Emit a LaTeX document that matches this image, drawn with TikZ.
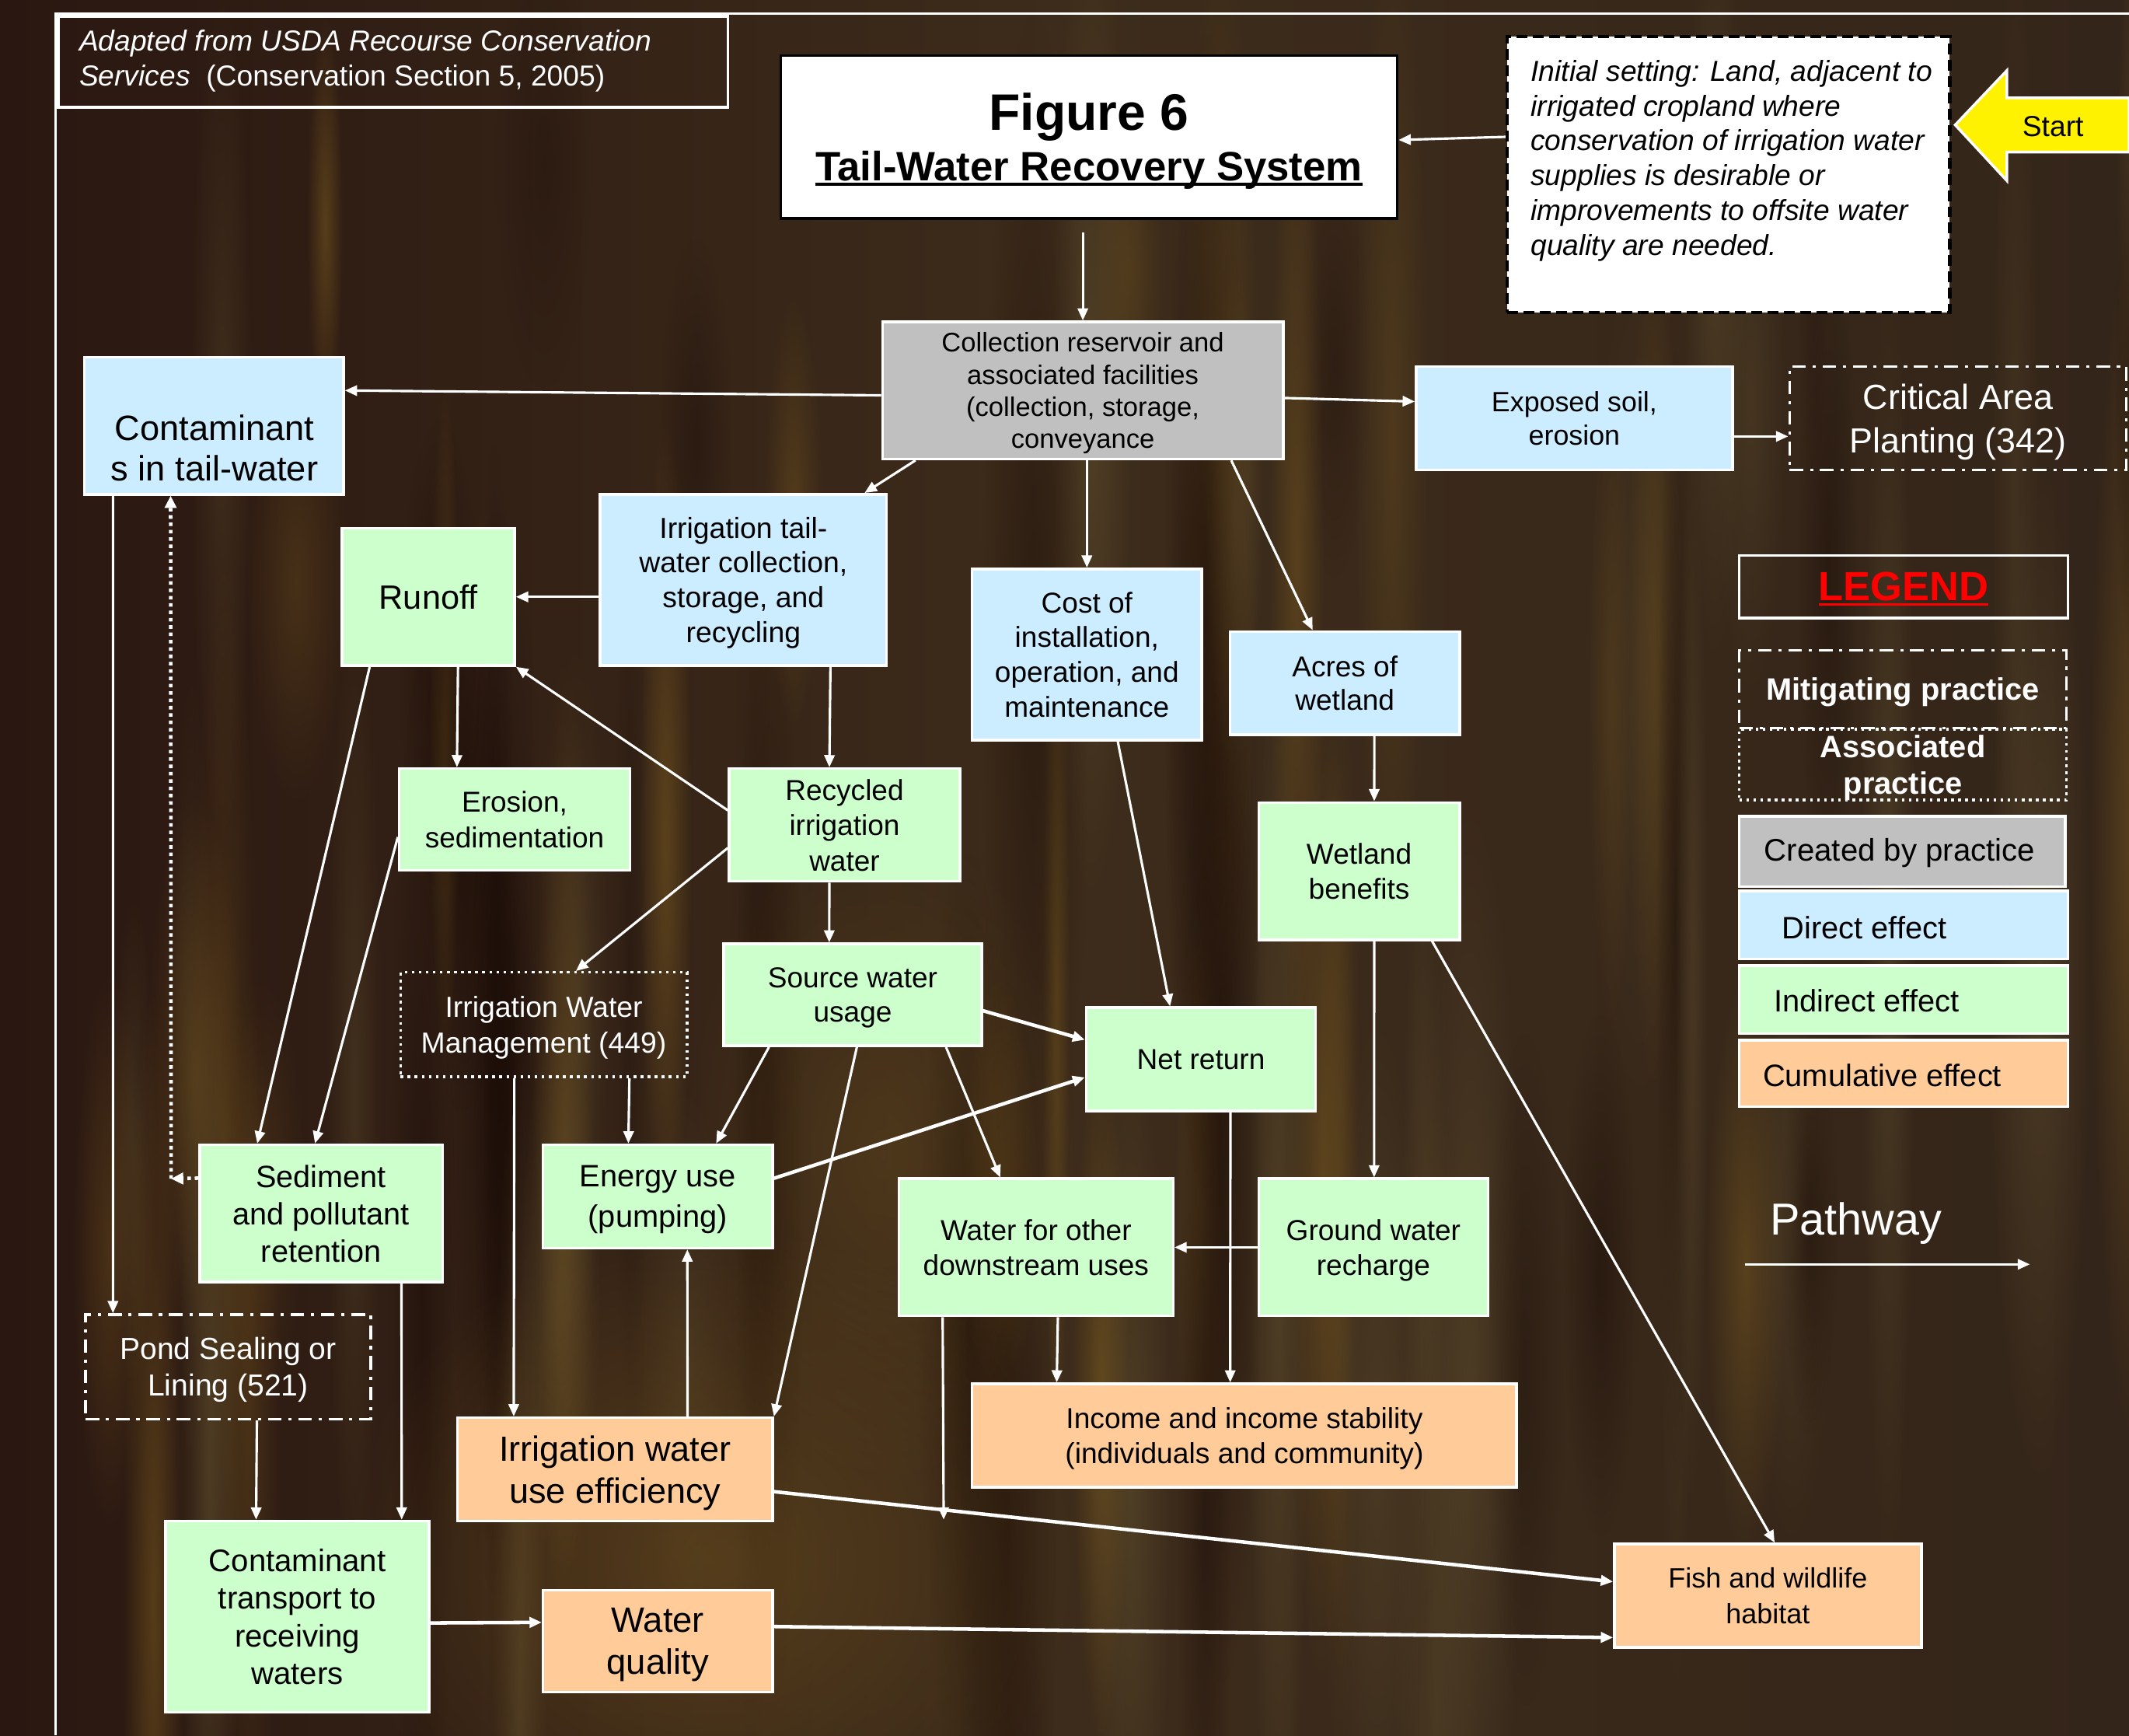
\documentclass[tikz,border=0pt]{standalone}
\usepackage{fontspec}
\setmainfont{Liberation Sans}
\usetikzlibrary{arrows.meta,calc,fadings}
\definecolor{lblue}{HTML}{CCECFF}
\definecolor{lgreen}{HTML}{CCFFCC}
\definecolor{lorange}{HTML}{FFCC99}
\definecolor{lgray}{HTML}{C0C0C0}
\definecolor{bgL}{HTML}{2A1711}
\definecolor{bgM}{HTML}{3D2C1B}
\definecolor{bgR}{HTML}{34251A}
\definecolor{stA}{HTML}{7A5A20}
\definecolor{stB}{HTML}{1A0C07}
\definecolor{stC}{HTML}{5E4E2E}
\tikzfading[name=softblob, inner color=transparent!0, outer color=transparent!100]
\newcommand\myfs[2]{\fontsize{#1}{#2}\selectfont}
\newcommand\myul[1]{\setbox0\hbox{#1}\rlap{\rule[-0.12em]{\wd0}{0.07em}}\box0}
\begin{document}
\begin{tikzpicture}[x=0.5pt,y=-0.5pt,
  sz/.style 2 args={minimum width=#1pt,minimum height=#2pt},
  box/.style={draw=white,line width=1pt,inner sep=0pt,align=center,text=black,text depth=0pt},
  dotbox/.style={draw=white,line width=1pt,dash pattern=on 1pt off 1.6pt,inner sep=0pt,align=center,text=white,text depth=0pt},
  dashdotbox/.style={draw=white,line width=1pt,dash pattern=on 5pt off 2.5pt on 1.2pt off 2.5pt,inner sep=0pt,align=center,text=white,text depth=0pt},
  arr/.style={draw=white,line width=0.9pt,-{Triangle[length=4.5pt,width=3.8pt]}},
  thickarr/.style={arr,line width=1.3pt},
  dotarr/.style={draw=white,line width=1.3pt,dash pattern=on 1.3pt off 1.4pt,-{Triangle[length=4.5pt,width=4.2pt]}},
  txt/.style={inner sep=0pt,align=center}
]
\useasboundingbox (0,0) rectangle (1568,1278);
\shade[left color=bgL,right color=bgR,middle color=bgM] (0,0) rectangle (1568,1278);
% photographic texture: soft vertical streaks
\pgfmathsetseed{4242}
\foreach \i in {1,...,80}{
  \pgfmathsetmacro\xa{40+rnd*1520}
  \pgfmathsetmacro\wd{20+rnd*60}
  \pgfmathsetmacro\ya{-100+rnd*900}
  \pgfmathsetmacro\yb{\ya+300+rnd*700}
  \pgfmathsetmacro\op{0.25+rnd*0.35}
  \pgfmathtruncatemacro\ci{mod(\i,3)}
  \ifnum\ci=0 \def\cc{stA}\fi
  \ifnum\ci=1 \def\cc{stB}\fi
  \ifnum\ci=2 \def\cc{stC}\fi
  \fill[\cc,opacity=\op,path fading=softblob] (\xa,\ya) rectangle (\xa+\wd,\yb);
}
\fill[stA,opacity=0.45,path fading=softblob] (250,900) rectangle (800,1400);
\fill[stA,opacity=0.3,path fading=softblob] (500,600) rectangle (800,1100);

% frame and source note
\draw[white,line width=1pt] (41,1278) -- (41,10) -- (1568,10);
\node[draw=white,line width=1pt,sz={246.5}{33.5},inner sep=0pt] (adapted) at (289.5,45.5) {};
\node[txt,anchor=west,align=left,text=white,font=\myfs{10.65}{13}] (adapted-t) at (58,45)
  {\textit{Adapted from USDA Recourse Conservation}\\\textit{Services}\ \ (Conservation Section 5, 2005)};

% title
\node[fill=white,draw=black,line width=1pt,sz={227}{60},inner sep=0pt,align=center,text depth=0pt,
      font=\myfs{15.1}{18.6}\bfseries] (title) at (802,101)
  {{\myfs{18.9}{18.6}\bfseries Figure 6}\\\myul{Tail-Water Recovery System}};

% initial setting
\node[fill=white,draw=black,line width=1.2pt,dash pattern=on 4pt off 2pt,sz={163}{101.5},inner sep=0pt] (init) at (1273,128.5) {};
\node[txt,anchor=north west,align=left,text=black,font=\myfs{10.65}{12.8}\itshape] (init-t) at (1127,44)
  {Initial setting: Land, adjacent to\\irrigated cropland where\\conservation of irrigation water\\supplies is desirable or\\improvements to offsite water\\quality are needed.};

% start arrow
\draw[fill=yellow,draw=white,line width=1pt] (1440,92) -- (1478,52) -- (1478,72) -- (1568,72) -- (1568,112) -- (1478,112) -- (1478,133) -- cycle;
\node[txt,text=black,font=\myfs{10.65}{13}] (start) at (1512,93) {Start};

% main boxes
\node[box,fill=lgray,sz={147.5}{50.5},font=\myfs{9.9}{11.85}] (coll) at (797.5,287.5) {Collection reservoir and\\associated facilities\\(collection, storage,\\conveyance};
\node[box,fill=lblue,sz={95.5}{50.5}] (cont) at (157.5,313.5) {};
\node[txt,text=black,font=\myfs{12.95}{15}] (cont-t) at (158,330) {Contaminant\\s in tail-water};
\node[box,fill=lblue,sz={116.5}{38},font=\myfs{10.25}{12.5}] (expo) at (1159.5,308) {Exposed soil,\\erosion};
\node[dashdotbox,sz={124}{38},font=\myfs{12.85}{16}] (crit) at (1442,308) {Critical Area\\Planting (342)};
\node[box,fill=lblue,sz={105.5}{63},font=\myfs{10.7}{12.85}] (irr) at (547.5,427) {Irrigation tail-\\water collection,\\storage, and\\recycling};
\node[box,fill=lgreen,sz={63.5}{50.5},font=\myfs{12.4}{15}] (runoff) at (315.5,439.5) {Runoff};
\node[box,fill=lgreen,sz={85}{41.5},font=\myfs{10.6}{13}] (recyc) at (622,607.5) {Recycled\\irrigation\\water};
\node[box,fill=lgreen,sz={85}{37.5},font=\myfs{10.6}{13}] (eros) at (379,603.5) {Erosion,\\sedimentation};
\node[box,fill=lblue,sz={84.5}{63},font=\myfs{10.6}{12.85}] (cost) at (800.5,482) {Cost of\\installation,\\operation, and\\maintenance};
\node[box,fill=lblue,sz={84.5}{38},font=\myfs{10.6}{12.5}] (acres) at (990.5,503) {Acres of\\wetland};
\node[box,fill=lgreen,sz={74}{50.5},font=\myfs{10.6}{13}] (wetl) at (1001,641.5) {Wetland\\benefits};
\node[dotbox,sz={105.5}{38.5},font=\myfs{10.7}{13}] (iwm) at (400.5,754.5) {Irrigation Water\\Management (449)};
\node[box,fill=lgreen,sz={95}{37.5},font=\myfs{10.6}{12.5}] (src) at (628,732.5) {Source water\\usage};
\node[box,fill=lgreen,sz={84.5}{38},font=\myfs{10.6}{13}] (net) at (884.5,780) {Net return};
\node[box,fill=lgreen,sz={84.5}{38},font=\myfs{11.4}{15}] (energy) at (484.5,881) {Energy use\\(pumping)};
\node[box,fill=lgreen,sz={89.5}{50.5},font=\myfs{11.35}{13.75}] (sed) at (236.5,893.5) {Sediment\\and pollutant\\retention};
\node[dashdotbox,sz={105}{38.5},font=\myfs{11.2}{13.5}] (pond) at (168,1006.5) {Pond Sealing or\\Lining (521)};
\node[box,fill=lgreen,sz={97}{70.5},font=\myfs{11.5}{13.85}] (ctrans) at (219,1190.5) {Contaminant\\transport to\\receiving\\waters};
\node[box,fill=lorange,sz={84.5}{37.5},font=\myfs{13}{15.5}] (wq) at (484.5,1208.5) {Water\\quality};
\node[box,fill=lorange,sz={116}{38},font=\myfs{12.9}{15.5}] (iwue) at (453,1082) {Irrigation water\\use efficiency};
\node[box,fill=lgreen,sz={101}{50.5},font=\myfs{10.6}{13}] (wfo) at (763,918.5) {Water for other\\downstream uses};
\node[box,fill=lgreen,sz={84.5}{50.5},font=\myfs{10.6}{13}] (gw) at (1011.5,918.5) {Ground water\\recharge};
\node[box,fill=lorange,sz={200.5}{38},font=\myfs{10.65}{13}] (income) at (916.5,1057) {Income and income stability\\(individuals and community)};
\node[box,fill=lorange,sz={113}{38},font=\myfs{10.3}{13}] (fish) at (1302,1175) {Fish and wildlife\\habitat};

% connectors
\draw[arr] ($(init.north west)!0.365!(init.south west)$) -- ($(title.north east)!0.517!(title.south east)$);
\draw[arr,shorten <=4.5pt] (coll.north |- title.south) -- (coll.north);
\draw[arr] ($(coll.north west)!0.535!(coll.south west)$) -- ($(cont.north east)!0.248!(cont.south east)$);
\draw[arr] ($(coll.north east)!0.554!(coll.south east)$) -- ($(expo.north west)!0.342!(expo.south west)$);
\draw[arr] ($(expo.north east)!0.671!(expo.south east)$) -- ($(crit.north west)!0.671!(crit.south west)$);
\draw[arr] ($(coll.south west)!0.085!(coll.south east)$) -- ($(irr.north west)!0.919!(irr.north east)$);
\draw[arr] (cost.north |- coll.south) -- (cost.north);
\draw[arr] ($(coll.south west)!0.868!(coll.south east)$) -- ($(acres.north west)!0.361!(acres.north east)$);
\draw[arr] (runoff.east -| irr.west) -- (runoff.east);
\draw[arr] ($(irr.south west)!0.801!(irr.south east)$) -- ($(recyc.north west)!0.435!(recyc.north east)$);
\draw[arr] ($(runoff.south west)!0.669!(runoff.south east)$) -- ($(eros.north west)!0.253!(eros.north east)$);
\draw[arr] ($(recyc.north west)!0.373!(recyc.south west)$) -- (runoff.south east);
\draw[arr] ($(recyc.north west)!0.699!(recyc.south west)$) -- ($(iwm.north west)!0.611!(iwm.north east)$);
\draw[arr] ($(recyc.south west)!0.435!(recyc.south east)$) -- ($(src.north west)!0.41!(src.north east)$);
\draw[arr] ($(runoff.south west)!0.165!(runoff.south east)$) -- ($(sed.north west)!0.24!(sed.north east)$);
\draw[arr] ($(eros.north west)!0.667!(eros.south west)$) -- ($(sed.north west)!0.475!(sed.north east)$);
\coordinate (dcorner) at (126,868);
\draw[dotarr] ($(sed.north west)!0.248!(sed.south west)$) -- (dcorner);
\draw[dotarr] (dcorner) -- ($(cont.south west)!0.335!(cont.south east)$);
\draw[arr] ($(cont.south west)!0.115!(cont.south east)$) -- ($(pond.north west)!0.1!(pond.north east)$);
\draw[arr] ($(pond.south west)!0.6!(pond.south east)$) -- ($(ctrans.north west)!0.345!(ctrans.north east)$);
\draw[arr] ($(sed.south west)!0.827!(sed.south east)$) -- ($(ctrans.north west)!0.892!(ctrans.north east)$);
\draw[thickarr] ($(ctrans.north east)!0.532!(ctrans.south east)$) -- ($(wq.north west)!0.32!(wq.south west)$);
\draw[thickarr] ($(wq.north east)!0.36!(wq.south east)$) -- ($(fish.north west)!0.895!(fish.south west)$);
\draw[thickarr] ($(iwue.north east)!0.71!(iwue.south east)$) -- ($(fish.north west)!0.368!(fish.south west)$);
\draw[arr] ($(iwue.north west)!0.728!(iwue.north east)$) -- ($(energy.south west)!0.627!(energy.south east)$);
\draw[arr] ($(iwm.south west)!0.796!(iwm.south east)$) -- ($(energy.north west)!0.373!(energy.north east)$);
\draw[arr] ($(iwm.south west)!0.398!(iwm.south east)$) -- ($(iwue.north west)!0.181!(iwue.north east)$);
\draw[arr] ($(src.south west)!0.179!(src.south east)$) -- ($(energy.north west)!0.751!(energy.north east)$);
\draw[arr] ($(src.south west)!0.516!(src.south east)$) -- (iwue.north east);
\draw[arr] ($(src.south west)!0.858!(src.south east)$) -- ($(wfo.north west)!0.371!(wfo.north east)$);
\draw[thickarr] ($(src.north east)!0.653!(src.south east)$) -- ($(net.north west)!0.316!(net.south west)$);
\draw[thickarr] ($(energy.north east)!0.329!(energy.south east)$) -- ($(net.north west)!0.671!(net.south west)$);
\draw[arr] ($(cost.south west)!0.633!(cost.south east)$) -- ($(net.north west)!0.367!(net.north east)$);
\draw[arr] ($(acres.south west)!0.627!(acres.south east)$) -- ($(wetl.north west)!0.574!(wetl.north east)$);
\draw[arr] ($(wetl.south west)!0.574!(wetl.south east)$) -- ($(gw.north west)!0.503!(gw.north east)$);
\draw[arr] ($(wetl.south west)!0.858!(wetl.south east)$) -- ($(fish.north west)!0.522!(fish.north east)$);
\draw[arr] (gw.west) -- (wfo.east);
\draw[arr] ($(net.south west)!0.627!(net.south east)$) -- ($(income.north west)!0.474!(income.north east)$);
\draw[arr] ($(wfo.south west)!0.579!(wfo.south east)$) -- ($(income.north west)!0.157!(income.north east)$);
\coordinate (wfo-end) at (695,1119);
\draw[arr] ($(wfo.south west)!0.163!(wfo.south east)$) -- (wfo-end);

% legend
\node[draw=white,line width=1pt,sz={121}{23},inner sep=0pt,text=red,text depth=0pt,font=\myfs{15}{18}\bfseries] (lg-title) at (1402,432) {\myul{LEGEND}};
\node[dashdotbox,sz={120.5}{28.5},font=\myfs{11.4}{13.5}\bfseries] (lg-mit) at (1401.5,507.5) {Mitigating practice};
\node[dotbox,sz={120.5}{26},font=\myfs{11.4}{13.5}\bfseries] (lg-assoc) at (1401.5,563) {Associated\\practice};
\node[box,fill=lgray,sz={120}{26}] (lg-created) at (1401,627) {};
\node[txt,anchor=west,text=black,font=\myfs{11.5}{13}] (lg-created-t) at (1299,628) {Created by practice};
\node[box,fill=lblue,sz={121}{25}] (lg-direct) at (1402,681) {};
\node[txt,anchor=west,text=black,font=\myfs{11.4}{13}] (lg-direct-t) at (1312,683) {Direct effect};
\node[box,fill=lgreen,sz={121}{25}] (lg-indirect) at (1402,736) {};
\node[txt,anchor=west,text=black,font=\myfs{11.4}{13}] (lg-indirect-t) at (1306,737) {Indirect effect};
\node[box,fill=lorange,sz={121}{24.5}] (lg-cum) at (1402,790.5) {};
\node[txt,anchor=west,text=black,font=\myfs{11.4}{13}] (lg-cum-t) at (1298,792) {Cumulative effect};
\node[txt,text=white,font=\myfs{16.5}{19}] (lg-path) at (1367,901) {Pathway};
\coordinate (pw-a) at (1285,931);
\coordinate (pw-b) at (1495,931);
\draw[arr] (pw-a) -- (pw-b);
\end{tikzpicture}
\end{document}
